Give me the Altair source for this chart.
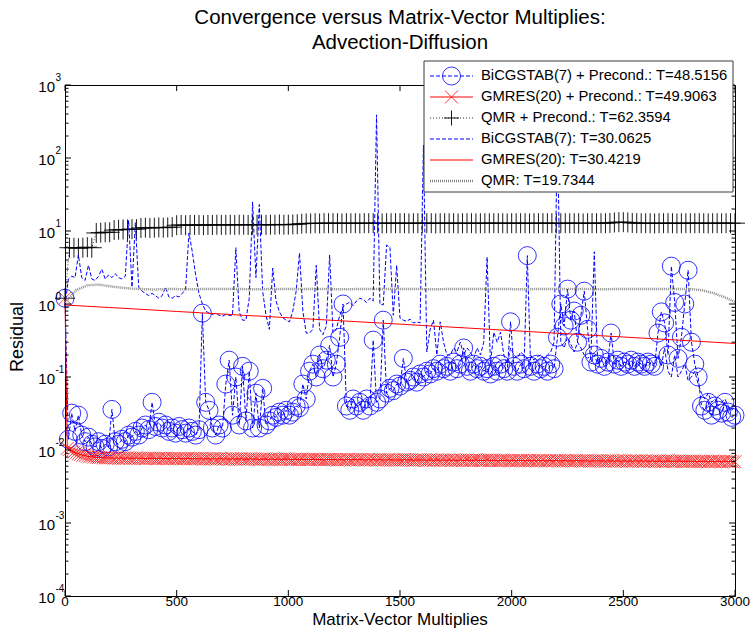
import altair as alt
import pandas as pd

# ---------------------------------------------------------------------------
# Residual histories, one value every *_STEP matrix-vector multiplies
# ---------------------------------------------------------------------------
BICG_PRE_STEP = 15
bicg_pre = [
    1.2, 0.014, 0.032, 0.018, 0.03, 0.016, 0.013, 0.015, 0.012, 0.011,       # 0-135
    0.013, 0.0105, 0.012, 0.011, 0.036, 0.013, 0.012, 0.014, 0.013, 0.016,   # 150-285
    0.015, 0.018, 0.016, 0.02, 0.022, 0.019, 0.045, 0.021, 0.024, 0.02,      # 300-435
    0.022, 0.018, 0.02, 0.017, 0.021, 0.019, 0.017, 0.02, 0.018, 0.016,      # 450-585
    0.019, 0.75, 0.045, 0.035, 0.02, 0.016, 0.022, 0.02, 0.08, 0.17,         # 600-735
    0.03, 0.1, 0.022, 0.14, 0.025, 0.12, 0.02, 0.06, 0.02, 0.07,             # 750-885
    0.022, 0.025, 0.03, 0.028, 0.033, 0.03, 0.035, 0.03, 0.033, 0.04,        # 900-1035
    0.038, 0.08, 0.05, 0.12, 0.15, 0.1, 0.2, 0.13, 0.17, 0.27,               # 1050-1185
    0.1, 0.15, 0.35, 1.0, 0.04, 0.035, 0.05, 0.04, 0.045, 0.035,             # 1200-1335
    0.05, 0.04, 0.32, 0.045, 0.05, 0.6, 0.06, 0.07, 0.065, 0.08,             # 1350-1485
    0.075, 0.18, 0.085, 0.09, 0.1, 0.085, 0.11, 0.1, 0.12, 0.11,             # 1500-1635
    0.13, 0.12, 0.15, 0.13, 0.14, 0.12, 0.16, 0.13, 0.15, 0.25,              # 1650-1785
    0.14, 0.12, 0.15, 0.13, 0.14, 0.12, 0.13, 0.11, 0.14, 0.12,              # 1800-1935
    0.15, 0.13, 0.12, 0.57, 0.14, 0.12, 0.15, 0.13, 4.6, 0.14,               # 1950-2085
    0.12, 0.15, 0.13, 0.14, 0.12, 0.15, 0.13, 0.35, 1.0, 0.5,                # 2100-2235
    1.6, 0.6, 0.8, 0.3, 0.7, 1.5, 0.45, 0.16, 0.2, 0.15,                     # 2250-2385
    0.18, 0.14, 0.16, 0.4, 0.15, 0.17, 0.14, 0.16, 0.15, 0.17,               # 2400-2535
    0.14, 0.16, 0.15, 0.14, 0.16, 0.15, 0.14, 0.4, 0.78, 0.55,               # 2550-2685
    0.2, 3.3, 1.05, 0.18, 0.35, 1.0, 2.9, 0.3, 0.15, 0.1,                    # 2700-2835
    0.04, 0.035, 0.045, 0.03, 0.04, 0.035, 0.032, 0.045, 0.033, 0.028,       # 2850-2985
    0.03,                                                                     # 3000
]

BICG_STEP = 15
bicg = [
    0.95, 2.2, 2.4, 2.3, 4.7, 2.3, 2.1, 3.4, 2.2, 2.1,                       # 0-135
    2.4, 3.0, 2.2, 2.5, 2.3, 2.6, 2.3, 2.2, 2.4, 14,                         # 150-285
    1.7, 13, 1.7, 1.5, 1.4, 1.3, 1.4, 1.3, 1.2, 1.3,                         # 300-435
    1.7, 1.25, 1.2, 1.3, 1.25, 1.4, 1.6, 9.4, 5.2, 2.5,                      # 450-585
    1.4, 1.0, 0.8, 0.75, 0.72, 0.75, 0.7, 0.68, 0.72, 0.7,                   # 600-735
    0.7, 5.9, 0.78, 0.6, 0.6, 1.2, 25, 2.3, 23, 1.5,                         # 750-885
    0.7, 0.45, 3.1, 1.1, 0.78, 0.65, 0.6, 0.57, 0.8, 1.5,                    # 900-1035
    5.0, 0.8, 0.4, 0.4, 0.45, 3.4, 0.45, 0.38, 0.5, 4.7,                     # 1050-1185
    0.4, 0.45, 0.7, 0.9, 1.0, 1.06, 0.95, 1.1, 1.2, 1.15,                    # 1200-1335
    1.05, 1.2, 1.1, 390, 1.0, 0.97, 6.4, 6.0, 0.7, 3.4,                      # 1350-1485
    0.64, 0.6, 0.58, 0.62, 0.55, 0.57, 0.55, 150, 0.22, 0.45,                # 1500-1635
    0.6, 0.2, 0.57, 0.3, 0.2, 0.2, 0.25, 0.22, 0.3, 0.2,                     # 1650-1785
    0.25, 0.22, 0.18, 0.25, 0.2, 0.3, 4.4, 0.15, 0.41, 0.3,                  # 1800-1935
    0.41, 0.2, 0.15, 0.25, 0.2, 0.18, 0.22, 0.2, 0.18, 0.2,                  # 1950-2085
    0.17, 0.19, 0.2, 0.18, 0.2, 0.22, 0.3, 300, 0.3, 0.25,                   # 2100-2235
    0.35, 0.28, 0.22, 0.3, 0.25, 0.2, 0.18, 0.2, 5.2, 0.15,                  # 2250-2385
    0.17, 0.15, 0.18, 0.16, 0.15, 0.17, 0.14, 0.16, 0.15, 0.14,              # 2400-2535
    0.16, 0.15, 0.13, 0.15, 0.14, 0.16, 0.15, 0.2, 0.14, 0.25,               # 2550-2685
    0.12, 0.1, 0.2, 0.1, 0.12, 0.15, 0.09, 0.1, 0.12, 0.08,                  # 2700-2835
    0.06, 0.05, 0.06, 0.045, 0.05, 0.04, 0.045, 0.05, 0.04, 0.035,           # 2850-2985
    0.04,                                                                     # 3000
]

GMRES_PRE_STEP = 10
gmres_pre = [
    1.2, 0.0105, 0.0101, 0.0097, 0.0094, 0.0091, 0.0089, 0.0087, 0.0085, 0.0084,         # 0-90
    0.0082, 0.0081, 0.0081, 0.008, 0.0079, 0.0079, 0.0079, 0.0078, 0.0078, 0.0078,       # 100-190
    0.0078, 0.0078, 0.0077, 0.0078, 0.0077, 0.0078, 0.0077, 0.0077, 0.0078, 0.0077,      # 200-290
    0.0077, 0.0077, 0.0078, 0.0077, 0.0077, 0.0077, 0.0076, 0.0077, 0.0077, 0.0077,      # 300-390
    0.0077, 0.0076, 0.0077, 0.0077, 0.0076, 0.0077, 0.0076, 0.0076, 0.0077, 0.0076,      # 400-490
    0.0076, 0.0077, 0.0076, 0.0076, 0.0076, 0.0077, 0.0076, 0.0076, 0.0076, 0.0076,      # 500-590
    0.0076, 0.0076, 0.0075, 0.0076, 0.0076, 0.0075, 0.0076, 0.0076, 0.0075, 0.0076,      # 600-690
    0.0076, 0.0075, 0.0076, 0.0075, 0.0075, 0.0076, 0.0075, 0.0075, 0.0075, 0.0076,      # 700-790
    0.0075, 0.0075, 0.0075, 0.0076, 0.0075, 0.0075, 0.0075, 0.0074, 0.0075, 0.0075,      # 800-890
    0.0075, 0.0074, 0.0075, 0.0075, 0.0074, 0.0075, 0.0075, 0.0074, 0.0075, 0.0075,      # 900-990
    0.0075, 0.0074, 0.0074, 0.0075, 0.0074, 0.0074, 0.0075, 0.0074, 0.0074, 0.0074,      # 1000-1090
    0.0074, 0.0075, 0.0074, 0.0074, 0.0074, 0.0074, 0.0073, 0.0074, 0.0074, 0.0074,      # 1100-1190
    0.0074, 0.0074, 0.0073, 0.0074, 0.0074, 0.0073, 0.0074, 0.0074, 0.0073, 0.0074,      # 1200-1290
    0.0074, 0.0073, 0.0074, 0.0074, 0.0073, 0.0073, 0.0074, 0.0073, 0.0074, 0.0073,      # 1300-1390
    0.0073, 0.0074, 0.0073, 0.0073, 0.0073, 0.0074, 0.0073, 0.0073, 0.0073, 0.0073,      # 1400-1490
    0.0073, 0.0073, 0.0074, 0.0073, 0.0073, 0.0073, 0.0072, 0.0073, 0.0073, 0.0073,      # 1500-1590
    0.0073, 0.0073, 0.0072, 0.0073, 0.0073, 0.0072, 0.0073, 0.0073, 0.0072, 0.0073,      # 1600-1690
    0.0073, 0.0072, 0.0073, 0.0072, 0.0073, 0.0072, 0.0072, 0.0073, 0.0072, 0.0072,      # 1700-1790
    0.0073, 0.0072, 0.0072, 0.0072, 0.0073, 0.0072, 0.0072, 0.0072, 0.0072, 0.0073,      # 1800-1890
    0.0072, 0.0072, 0.0072, 0.0072, 0.0071, 0.0072, 0.0072, 0.0072, 0.0072, 0.0071,      # 1900-1990
    0.0072, 0.0072, 0.0071, 0.0072, 0.0072, 0.0072, 0.0071, 0.0072, 0.0072, 0.0071,      # 2000-2090
    0.0072, 0.0071, 0.0072, 0.0071, 0.0072, 0.0071, 0.0071, 0.0072, 0.0071, 0.0071,      # 2100-2190
    0.0072, 0.0071, 0.0071, 0.0071, 0.0072, 0.0071, 0.0071, 0.0071, 0.0071, 0.0072,      # 2200-2290
    0.0071, 0.0071, 0.0071, 0.0071, 0.0071, 0.007, 0.0071, 0.0071, 0.0071, 0.0071,       # 2300-2390
    0.0071, 0.0071, 0.007, 0.0071, 0.0071, 0.0071, 0.007, 0.0071, 0.0071, 0.007,         # 2400-2490
    0.0071, 0.0071, 0.007, 0.0071, 0.007, 0.0071, 0.0071, 0.007, 0.0071, 0.007,          # 2500-2590
    0.0071, 0.007, 0.007, 0.0071, 0.007, 0.007, 0.0071, 0.007, 0.007, 0.007,             # 2600-2690
    0.0071, 0.007, 0.007, 0.007, 0.007, 0.0071, 0.007, 0.007, 0.007, 0.007,              # 2700-2790
    0.007, 0.007, 0.007, 0.0069, 0.007, 0.007, 0.007, 0.007, 0.0069, 0.007,              # 2800-2890
    0.007, 0.0069, 0.007, 0.007, 0.0069, 0.007, 0.007, 0.0069, 0.007, 0.0069,            # 2900-2990
    0.0069,                                                                               # 3000
]

QMR_PRE_STEP = 20
qmr_pre = [
    1.2, 5.9, 5.9, 5.8, 5.9, 6.0, 5.9, 9.4, 9.5, 9.6,                # 0-180
    9.6, 10.3, 10.4, 10.5, 10.5, 10.6, 10.6, 11.0, 11.1, 11.0,       # 200-380
    11.1, 11.2, 11.1, 11.2, 11.3, 12.0, 12.1, 12.0, 12.1, 12.1,      # 400-580
    12.1, 12.0, 12.1, 12.1, 12.2, 12.1, 12.1, 12.2, 12.1, 12.2,      # 600-780
    12.2, 12.1, 12.2, 12.2, 12.2, 12.1, 12.2, 12.2, 12.3, 12.2,      # 800-980
    12.2, 12.3, 12.4, 12.6, 12.7, 12.7, 12.8, 12.7, 12.8, 12.8,      # 1000-1180
    12.8, 12.8, 12.7, 12.8, 12.8, 12.8, 12.7, 12.8, 12.8, 12.8,      # 1200-1380
    12.8, 12.7, 12.8, 12.8, 12.8, 12.8, 12.8, 12.7, 12.8, 12.8,      # 1400-1580
    12.8, 12.8, 12.8, 12.7, 12.8, 12.8, 12.8, 12.8, 12.7, 12.8,      # 1600-1780
    12.8, 12.8, 12.7, 12.8, 12.8, 12.8, 12.8, 12.8, 12.8, 12.7,      # 1800-1980
    12.8, 12.8, 12.8, 12.8, 12.7, 12.8, 12.8, 12.8, 12.8, 12.8,      # 2000-2180
    12.7, 12.8, 12.8, 12.8, 12.8, 12.8, 12.7, 12.8, 12.8, 12.8,      # 2200-2380
    12.8, 12.8, 12.9, 13.1, 13.2, 13.2, 13.1, 12.9, 12.8, 12.8,      # 2400-2580
    12.8, 12.8, 12.7, 12.8, 12.8, 12.8, 12.8, 12.7, 12.8, 12.8,      # 2600-2780
    12.8, 12.8, 12.8, 12.8, 12.7, 12.8, 12.8, 12.8, 12.8, 12.8,      # 2800-2980
    12.8,                                                             # 3000
]

GMRES_STEP = 100
gmres = [
    0.97, 0.93, 0.895, 0.86, 0.825, 0.79, 0.76, 0.73, 0.70, 0.675,
    0.648, 0.622, 0.597, 0.574, 0.551, 0.53, 0.508, 0.488, 0.469, 0.45,
    0.432, 0.415, 0.398, 0.383, 0.367, 0.353, 0.339, 0.326, 0.313, 0.30,
    0.288,
]

QMR_STEP = 50
qmr = [
    1.05, 1.55, 1.8, 1.85, 1.75, 1.68, 1.62, 1.6, 1.58, 1.6,         # 0-450
    1.6, 1.59, 1.6, 1.6, 1.61, 1.6, 1.6, 1.59, 1.6, 1.6,             # 500-950
    1.6, 1.6, 1.61, 1.6, 1.6, 1.59, 1.6, 1.6, 1.6, 1.61,             # 1000-1450
    1.6, 1.6, 1.6, 1.59, 1.6, 1.6, 1.61, 1.6, 1.6, 1.6,              # 1500-1950
    1.6, 1.59, 1.6, 1.6, 1.6, 1.61, 1.6, 1.6, 1.59, 1.6,             # 2000-2450
    1.6, 1.6, 1.61, 1.6, 1.6, 1.6, 1.6, 1.55, 1.42, 1.25,            # 2500-2950
    1.07,                                                             # 3000
]

legend_labels = [
    "BiCGSTAB(7) + Precond.: T=48.5156",
    "GMRES(20) + Precond.: T=49.9063",
    "QMR + Precond.: T=62.3594",
    "BiCGSTAB(7): T=30.0625",
    "GMRES(20): T=30.4219",
    "QMR: T=19.7344",
]
title_lines = ["Convergence versus Matrix-Vector Multiplies:", "Advection-Diffusion"]
x_label = "Matrix-Vector Multiplies"
y_label = "Residual"
x_ticks = [0, 500, 1000, 1500, 2000, 2500, 3000]
y_exponents = [-4, -3, -2, -1, 0, 1, 2, 3]

# ---------------------------------------------------------------------------
# Styling
# ---------------------------------------------------------------------------
W, H = 670, 511
FONT = "Liberation Sans, Arial, Helvetica, sans-serif"
BLUE, RED, BLACK, GRAY = "#0000ff", "#ff0000", "#000000", "#8a8a8a"
X_SHAPE = "M-1,-1L1,1M-1,1L1,-1"
PLUS_SHAPE = "M-1,0L1,0M0,-1L0,1"

xscale = alt.Scale(domain=[0, 3000], nice=False, zero=False)
yscale = alt.Scale(type="log", domain=[1e-4, 1e3], nice=False)
X = alt.X("mv:Q", scale=xscale, axis=None)
Y = alt.Y("res:Q", scale=yscale, axis=None)


def series(vals, step):
    return pd.DataFrame({"mv": [step * i for i in range(len(vals))], "res": vals})


one = pd.DataFrame({"k": [0]})
layers = []

# (values, step, line style, marker style) in plotting order
styles = [
    (bicg_pre, BICG_PRE_STEP,
     dict(color=BLUE, strokeWidth=1, strokeDash=[4, 2]),
     dict(shape="circle", size=324, color=BLUE, strokeWidth=0.8)),
    (gmres_pre, GMRES_PRE_STEP,
     dict(color=RED, strokeWidth=1),
     dict(shape=X_SHAPE, size=169, color=RED, strokeWidth=0.7)),
    (qmr_pre, QMR_PRE_STEP,
     dict(color=BLACK, strokeWidth=0.8, strokeDash=[1, 2]),
     dict(shape=PLUS_SHAPE, size=400, color=BLACK, strokeWidth=0.9)),
    (bicg, BICG_STEP, dict(color=BLUE, strokeWidth=1, strokeDash=[4, 2]), None),
    (gmres, GMRES_STEP, dict(color=RED, strokeWidth=1), None),
    (qmr, QMR_STEP, dict(color=GRAY, strokeWidth=2.5, strokeDash=[1, 1]), None),
]

for vals, step, line_kw, marker_kw in styles:
    df = series(vals, step)
    layers.append(alt.Chart(df).mark_line(**line_kw).encode(x=X, y=Y))
    if marker_kw:
        layers.append(
            alt.Chart(df)
            .mark_point(filled=False, opacity=1, **marker_kw)
            .encode(x=X, y=Y)
        )

# Inward ticks on all four sides
y_major = pd.DataFrame({"v": [10.0 ** e for e in y_exponents]})
y_minor = pd.DataFrame({"v": [m * 10.0 ** e for e in y_exponents[:-1] for m in range(2, 10)]})
xt = pd.DataFrame({"v": x_ticks})
YV = alt.Y("v:Q", scale=yscale, axis=None)
XV = alt.X("v:Q", scale=xscale, axis=None)
for df, ln in ((y_major, 6), (y_minor, 3.5)):
    layers.append(alt.Chart(df).mark_rule(color=BLACK, strokeWidth=1)
                  .encode(x=alt.value(0), x2=alt.value(ln), y=YV))
    layers.append(alt.Chart(df).mark_rule(color=BLACK, strokeWidth=1)
                  .encode(x=alt.value(W), x2=alt.value(W - ln), y=YV))
layers.append(alt.Chart(xt).mark_rule(color=BLACK, strokeWidth=1)
              .encode(x=XV, y=alt.value(H), y2=alt.value(H - 6)))
layers.append(alt.Chart(xt).mark_rule(color=BLACK, strokeWidth=1)
              .encode(x=XV, y=alt.value(0), y2=alt.value(6)))

# Tick labels
layers.append(alt.Chart(xt).mark_text(font=FONT, fontSize=13.5, baseline="middle", align="center")
              .encode(x=XV, y=alt.value(H + 5.5), text=alt.Text("v:Q", format="d")))
ylab = pd.DataFrame({"v": [10.0 ** e for e in y_exponents], "e": [str(e) for e in y_exponents]})
layers.append(alt.Chart(ylab).mark_text(font=FONT, fontSize=15, baseline="middle", align="right", dy=2)
              .encode(x=alt.value(-10), y=YV, text=alt.value("10")))
layers.append(alt.Chart(ylab).mark_text(font=FONT, fontSize=10, baseline="middle", align="left", dy=-7)
              .encode(x=alt.value(-9.5), y=YV, text="e:N"))

# Axis titles and chart title
layers.append(alt.Chart(one).mark_text(font=FONT, fontSize=17, baseline="alphabetic", align="center")
              .encode(x=alt.value(W / 2), y=alt.value(H + 29), text=alt.value(x_label)))
layers.append(alt.Chart(one).mark_text(font=FONT, fontSize=18, baseline="middle", align="center", angle=270)
              .encode(x=alt.value(-47), y=alt.value(252), text=alt.value(y_label)))
for i, line in enumerate(title_lines):
    layers.append(alt.Chart(one).mark_text(font=FONT, fontSize=20.5, baseline="middle", align="center")
                  .encode(x=alt.value(W / 2), y=alt.value(-67 + 25 * i), text=alt.value(line)))

# Legend box
LX0, LX1, LY0, LY1 = 359, 668, -24, 107
layers.append(alt.Chart(one).mark_rect(fill="white", stroke="#3a3a3a", strokeWidth=1)
              .encode(x=alt.value(LX0), x2=alt.value(LX1), y=alt.value(LY0), y2=alt.value(LY1)))
legend_markers = [
    dict(shape="circle", size=324, color=BLUE, strokeWidth=0.8),
    dict(shape=X_SHAPE, size=169, color=RED, strokeWidth=0.8),
    dict(shape=PLUS_SHAPE, size=225, color=BLACK, strokeWidth=0.9),
    None, None, None,
]
for i, label in enumerate(legend_labels):
    yy = -9 + 21 * i
    line_kw = styles[i][2]
    layers.append(alt.Chart(one).mark_rule(**line_kw)
                  .encode(x=alt.value(LX0 + 6), x2=alt.value(LX0 + 49), y=alt.value(yy)))
    if legend_markers[i]:
        layers.append(alt.Chart(one).mark_point(filled=False, opacity=1, **legend_markers[i])
                      .encode(x=alt.value(LX0 + 27.5), y=alt.value(yy)))
    layers.append(alt.Chart(pd.DataFrame({"label": [label]}))
                  .mark_text(font=FONT, fontSize=14.8, baseline="middle", align="left")
                  .encode(x=alt.value(LX0 + 57), y=alt.value(yy), text="label:N"))

chart = (
    alt.layer(*layers)
    .properties(
        width=W,
        height=H,
        padding={"left": 65, "top": 85, "right": 18, "bottom": 32},
        autosize=alt.AutoSizeParams(type="none"),
        background="white",
    )
    .configure_view(stroke="black", strokeWidth=1)
)

chart.save("out.html", embed_options={"renderer": "svg", "actions": False})
